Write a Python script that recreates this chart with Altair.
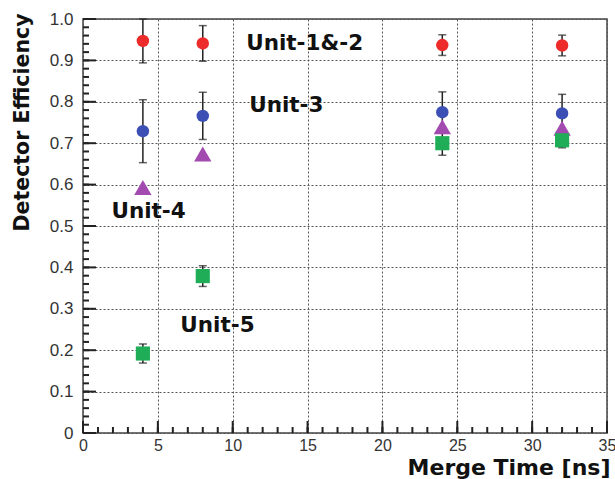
import altair as alt
import pandas as pd

# ---- data ----
merge_time = [4, 8, 24, 32]
series_names = ["Unit-1&-2", "Unit-3", "Unit-4", "Unit-5"]
eff_u12 = [0.947, 0.941, 0.937, 0.936]
err_u12 = [0.053, 0.043, 0.025, 0.025]
eff_u3 = [0.729, 0.766, 0.775, 0.772]
err_u3 = [0.076, 0.057, 0.049, 0.046]
eff_u4 = [0.593, 0.674, 0.740, 0.736]
eff_u5 = [0.192, 0.379, 0.700, 0.707]
err_u5 = [0.023, 0.025, 0.029, 0.018]

label_text = ["Unit-1&-2", "Unit-3", "Unit-4", "Unit-5"]
label_x = [10.9, 11.1, 1.9, 6.5]
label_y = [0.939, 0.790, 0.535, 0.258]

x_major = [0, 5, 10, 15, 20, 25, 30, 35]
x_minor = list(range(0, 36))
y_major = [round(i * 0.1, 2) for i in range(11)]
y_minor = [round(i * 0.02, 2) for i in range(51)]

colors = ["#ee2b2b", "#3b4fb5", "#a24ab0", "#1fae57"]
shapes = ["circle", "circle", "triangle-up", "square"]
sizes = [155, 155, 300, 200]

# tick lengths expressed in axis units (style constants)
X_TICK_MAJOR, X_TICK_MINOR = 0.029, 0.0145   # along y, for x-axis ticks
Y_TICK_MAJOR, Y_TICK_MINOR = 0.87, 0.40      # along x, for y-axis ticks

# ---- tables ----
pts = []
for name, effs in zip(series_names, [eff_u12, eff_u3, eff_u4, eff_u5]):
    for x, y in zip(merge_time, effs):
        pts.append({"x": x, "y": y, "series": name})
pts = pd.DataFrame(pts)

err_rows = []
cap_rows = []
for effs, errs in [(eff_u12, err_u12), (eff_u3, err_u3), (eff_u5, err_u5)]:
    for x, y, e in zip(merge_time, effs, errs):
        lo, hi = max(0.0, y - e), min(1.0, y + e)
        err_rows.append({"x": x, "lo": lo, "hi": hi})
        cap_rows.append({"x": x, "c": lo})
        cap_rows.append({"x": x, "c": hi})
errs_df = pd.DataFrame(err_rows)
caps_df = pd.DataFrame(cap_rows)
labels_df = pd.DataFrame({"x": label_x, "y": label_y, "t": label_text})

xmaj_df = pd.DataFrame({"xt": x_major})
xmin_df = pd.DataFrame({"xt": x_minor})
ymaj_df = pd.DataFrame({"yt": y_major})
ymin_df = pd.DataFrame({"yt": y_minor})

xs = alt.Scale(domain=[0, 35], nice=False, zero=False)
ys = alt.Scale(domain=[0, 1], nice=False, zero=False)

LABEL_FONT = "Liberation Sans"
TITLE_FONT = "DejaVu Sans"
TICK_COLOR = "#222"

# main axes: labels, grid, titles
main_axes = alt.Chart(pts).mark_point(opacity=0).encode(
    x=alt.X("x:Q", scale=xs, axis=alt.Axis(
        orient="bottom", values=x_major, ticks=False, domain=False,
        grid=True, gridDash=[2, 2], gridColor="#555", gridWidth=1,
        labelFont=LABEL_FONT, labelFontSize=16, labelColor="#333",
        labelPadding=4, labelFlush=False,
        title="Merge Time [ns]", titleFont=TITLE_FONT, titleFontSize=22,
        titleFontWeight="bold", titleColor="#111",
        titleX=527, titleY=34, titleAlign="right", titleBaseline="middle")),
    y=alt.Y("y:Q", scale=ys, axis=alt.Axis(
        orient="left", values=y_major, ticks=False, domain=False,
        grid=True, gridDash=[2, 2], gridColor="#555", gridWidth=1,
        labelFont=LABEL_FONT, labelFontSize=17, labelColor="#333",
        labelPadding=10, labelFlush=False,
        labelExpr="datum.value == 0 ? '0' : format(datum.value, '.1f')",
        title="Detector Efficiency", titleFont=TITLE_FONT, titleFontSize=20.5,
        titleFontWeight="bold", titleColor="#111",
        titleX=-61, titleY=-6, titleAlign="right", titleBaseline="middle",
        titleAngle=270)),
)

# inward ticks drawn as short rules through the scales
def x_ticks(df, length):
    return alt.Chart(df).mark_rule(color=TICK_COLOR, strokeWidth=2).encode(
        x=alt.X("xt:Q", scale=xs),
        y=alt.YDatum(datum=0, scale=ys),
        y2=alt.Y2Datum(datum=length),
    )

def y_ticks(df, length):
    return alt.Chart(df).mark_rule(color=TICK_COLOR, strokeWidth=2).encode(
        y=alt.Y("yt:Q", scale=ys),
        x=alt.XDatum(datum=0, scale=xs),
        x2=alt.X2Datum(datum=length),
    )

bars = alt.Chart(errs_df).mark_rule(color="#222", strokeWidth=1.5).encode(
    x=alt.X("x:Q", scale=xs),
    y=alt.Y("lo:Q", scale=ys),
    y2="hi:Q",
)

caps = alt.Chart(caps_df).mark_tick(
    color="#222", orient="horizontal", size=8, thickness=1.5
).encode(
    x=alt.X("x:Q", scale=xs),
    y=alt.Y("c:Q", scale=ys),
)

markers = alt.Chart(pts).mark_point(filled=True, opacity=1).encode(
    x=alt.X("x:Q", scale=xs),
    y=alt.Y("y:Q", scale=ys),
    color=alt.Color("series:N", scale=alt.Scale(domain=series_names, range=colors), legend=None),
    shape=alt.Shape("series:N", scale=alt.Scale(domain=series_names, range=shapes), legend=None),
    size=alt.Size("series:N", scale=alt.Scale(type="ordinal", domain=series_names, range=sizes), legend=None),
)

texts = alt.Chart(labels_df).mark_text(
    align="left", baseline="middle", font=TITLE_FONT, fontSize=21.5,
    fontWeight="bold", color="#111"
).encode(
    x=alt.X("x:Q", scale=xs),
    y=alt.Y("y:Q", scale=ys),
    text="t:N",
)

chart = alt.layer(
    main_axes, bars, caps, markers, texts,
    x_ticks(xmin_df, X_TICK_MINOR), x_ticks(xmaj_df, X_TICK_MAJOR),
    y_ticks(ymin_df, Y_TICK_MINOR), y_ticks(ymaj_df, Y_TICK_MAJOR),
).properties(
    width=524, height=414,
    autosize=alt.AutoSizeParams(type="none"),
    padding={"left": 83, "top": 19, "right": 8, "bottom": 46},
    background="white",
).configure_view(stroke="#444", strokeWidth=1.5)

chart.save("out.html", embed_options={"renderer": "svg", "actions": False})
